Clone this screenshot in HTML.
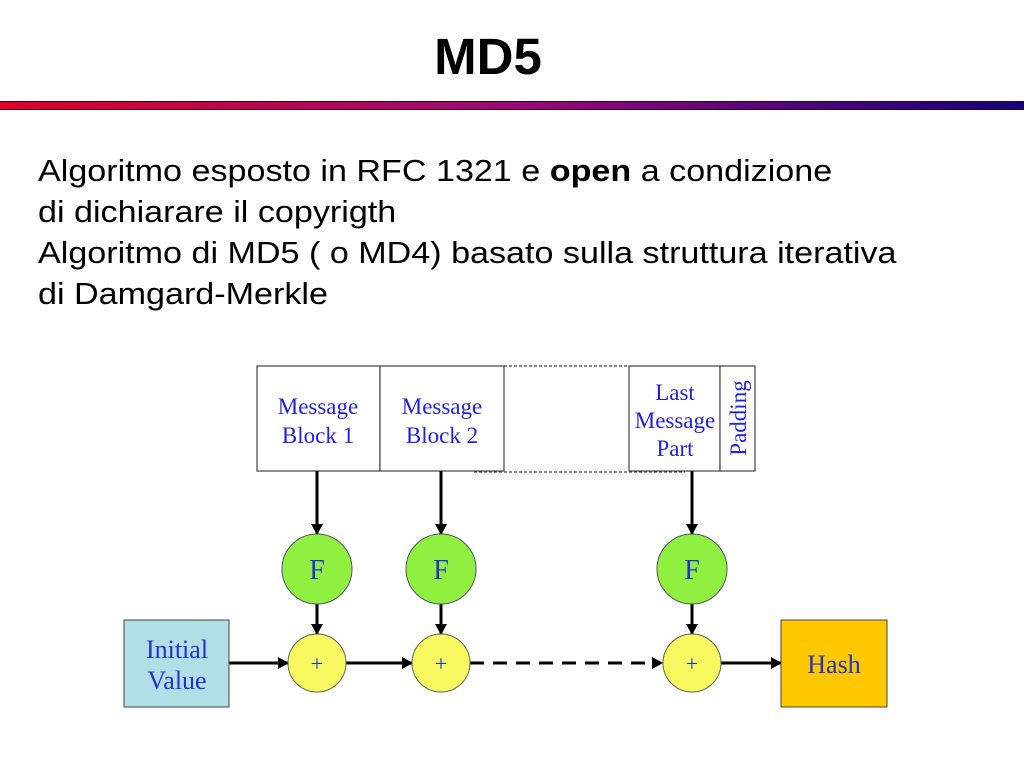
<!DOCTYPE html>
<html><head><meta charset="utf-8"><style>
body{margin:0;width:1024px;height:768px;background:#fff;position:relative;overflow:hidden;font-family:"Liberation Sans",sans-serif}
.t{position:absolute;left:0;width:976px;text-align:center;top:27px;font-size:51px;font-weight:bold}
.bar{position:absolute;left:0;top:101px;width:1024px;height:9px;background:linear-gradient(to right,#e0002a,#9a0a7a 50%,#100080);border-top:1px solid #400;border-bottom:1px solid #400;box-sizing:border-box}
.tx{position:absolute;left:38px;top:150px;font-size:31px;line-height:41px;color:#000;white-space:nowrap;transform:scaleX(1.1);transform-origin:0 0}
</style></head><body>
<div class="t">MD5</div>
<div class="bar"></div>
<div class="tx">Algoritmo esposto in RFC 1321 e <b>open</b> a condizione<br>di dichiarare il copyrigth<br>Algoritmo di MD5 ( o MD4) basato sulla struttura iterativa<br>di Damgard-Merkle</div>
<svg width="1024" height="768" style="position:absolute;left:0;top:0" font-family="Liberation Serif,serif">
<defs><marker id="a" markerWidth="11" markerHeight="12" refX="10" refY="6" orient="auto" markerUnits="userSpaceOnUse"><path d="M0,0L11,6L0,12z" fill="#000"/></marker></defs>
<g stroke="#444" fill="#fff" stroke-width="1.2">
<rect x="257" y="366" width="123" height="105"/>
<rect x="380" y="366" width="124" height="105"/>
<rect x="629" y="366" width="91" height="105"/>
<rect x="720" y="366" width="35" height="105"/>
</g>
<g stroke="#444" stroke-dasharray="3,2" stroke-width="1.2"><line x1="504" y1="366" x2="629" y2="366"/><line x1="474" y1="472" x2="685" y2="472"/></g>
<g fill="#2222dd" font-size="23" text-anchor="middle">
<text x="318" y="414">Message</text><text x="318" y="443">Block 1</text>
<text x="442" y="414">Message</text><text x="442" y="443">Block 2</text>
<text x="675" y="400">Last</text><text x="675" y="428">Message</text><text x="675" y="456">Part</text>
<text transform="translate(746,418) rotate(-90)">Padding</text>
</g>
<g stroke="#000" stroke-width="3" marker-end="url(#a)">
<line x1="317" y1="471" x2="317" y2="534"/><line x1="441" y1="471" x2="441" y2="534"/><line x1="692" y1="471" x2="692" y2="534"/>
<line x1="317" y1="604" x2="317" y2="634"/><line x1="441" y1="604" x2="441" y2="634"/><line x1="692" y1="604" x2="692" y2="634"/>
<line x1="229" y1="663" x2="288" y2="663"/><line x1="346" y1="663" x2="412" y2="663"/>
<line x1="721" y1="663" x2="781" y2="663"/>
</g>
<line x1="470" y1="663" x2="652" y2="663" stroke="#000" stroke-width="3" stroke-dasharray="14,9"/>
<path d="M652,657L663,663L652,669z" fill="#000"/>
<g fill="#90f040" stroke="#556" stroke-width="1"><circle cx="317" cy="569" r="35"/><circle cx="441" cy="569" r="35"/><circle cx="692" cy="569" r="35"/></g>
<g fill="#f8f860" stroke="#665" stroke-width="1"><circle cx="317" cy="663" r="29"/><circle cx="441" cy="663" r="29"/><circle cx="692" cy="663" r="29"/></g>
<g fill="#2233cc" font-size="28" text-anchor="middle"><text x="317" y="579">F</text><text x="441" y="579">F</text><text x="692" y="579">F</text></g>
<g fill="#2233cc" font-size="22" text-anchor="middle"><text x="317" y="671">+</text><text x="441" y="671">+</text><text x="692" y="671">+</text></g>
<rect x="124" y="620" width="105" height="87" fill="#b0e0e6" stroke="#444"/>
<rect x="781" y="620" width="106" height="87" fill="#ffc800" stroke="#444"/>
<g fill="#2233cc" font-size="26" text-anchor="middle"><text x="177" y="658">Initial</text><text x="177" y="689">Value</text><text x="834" y="673">Hash</text></g>
</svg>
</body></html>
